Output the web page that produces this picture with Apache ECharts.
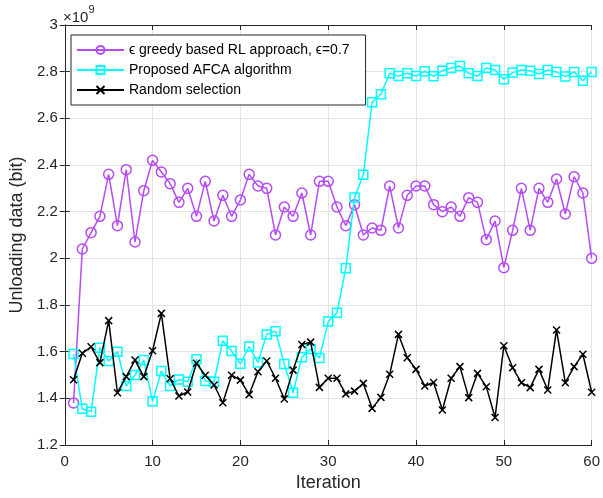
<!DOCTYPE html>
<html>
<head>
<meta charset="utf-8">
<script src="https://cdn.jsdelivr.net/npm/echarts@6/dist/echarts.min.js"></script>
<style>html,body{margin:0;padding:0;background:#fff}#c{width:603px;height:498px}</style>
</head>
<body>
<div id="c"></div>
<script>
// values in units of 1e9 bit
var iterations = [];
for (var i = 1; i <= 60; i++) iterations.push(i);
var greedyRL = [1.38,2.04,2.11,2.18,2.36,2.14,2.38,2.07,2.29,2.42,2.37,2.32,2.24,2.30,2.18,2.33,2.16,2.27,2.18,2.25,
  2.36,2.31,2.30,2.10,2.22,2.18,2.28,2.10,2.33,2.33,2.22,2.14,2.23,2.10,2.13,2.12,2.31,2.13,2.27,2.31,
  2.31,2.23,2.20,2.22,2.18,2.26,2.24,2.08,2.16,1.96,2.12,2.30,2.12,2.30,2.24,2.34,2.19,2.35,2.28,2.00];
var afca = [1.59,1.355,1.343,1.617,1.56,1.60,1.453,1.50,1.564,1.387,1.517,1.453,1.481,1.471,1.567,1.474,1.471,1.647,1.603,1.548,
  1.622,1.554,1.674,1.688,1.547,1.424,1.576,1.611,1.573,1.729,1.767,1.957,2.261,2.358,2.669,2.703,2.793,2.781,2.793,2.781,
  2.802,2.780,2.804,2.816,2.824,2.793,2.781,2.816,2.807,2.767,2.796,2.807,2.804,2.79,2.807,2.799,2.779,2.799,2.761,2.799];
var randomSel = [1.48,1.593,1.621,1.553,1.733,1.424,1.493,1.564,1.493,1.604,1.764,1.484,1.41,1.427,1.55,1.499,1.457,1.381,1.499,1.478,
  1.416,1.514,1.56,1.486,1.397,1.521,1.631,1.641,1.447,1.486,1.486,1.419,1.431,1.464,1.357,1.404,1.503,1.674,1.574,1.524,
  1.453,1.468,1.35,1.486,1.536,1.403,1.507,1.45,1.318,1.625,1.531,1.467,1.446,1.524,1.436,1.693,1.467,1.536,1.589,1.426];
var names = ['\u03f5 greedy based RL approach, \u03f5=0.7', 'Proposed AFCA algorithm', 'Random selection'];
var xTicks = {min: 0, max: 60, interval: 10};
var yTicks = {min: 1.2, max: 3, interval: 0.2};

function pairs(arr) { return arr.map(function (v, i) { return [iterations[i], v]; }); }

var FONT = 'Liberation Sans, Arial, sans-serif';
var purple = '#B44CF5', cyan = '#00FFFF';
var chart = echarts.init(document.getElementById('c'), null, {renderer: 'canvas'});
var axisLineStyle = {color: '#262626', width: 1};
chart.setOption({
  backgroundColor: '#fff',
  animation: false,
  grid: {left: 62, right: 6, top: 25, bottom: 53},
  legend: {
    orient: 'vertical', left: 71, top: 35,
    backgroundColor: '#fff', borderColor: '#262626', borderWidth: 1,
    padding: [8, 16, 8, 5], itemGap: 6, itemWidth: 47, itemHeight: 10,
    textStyle: {fontFamily: FONT, fontSize: 14, color: '#000'},
    data: names
  },
  xAxis: [{
    type: 'value', min: xTicks.min, max: xTicks.max, interval: xTicks.interval,
    name: 'Iteration', nameLocation: 'middle', nameGap: 28,
    nameTextStyle: {fontFamily: FONT, fontSize: 18, color: '#262626'},
    axisLine: {show: true, lineStyle: axisLineStyle},
    axisTick: {show: true, inside: true, length: 5, lineStyle: axisLineStyle},
    axisLabel: {fontFamily: FONT, fontSize: 15, color: '#262626', margin: 9},
    splitLine: {show: true, lineStyle: {color: '#e3e3e3', width: 1}}
  }, {
    type: 'value', position: 'top', min: xTicks.min, max: xTicks.max, interval: xTicks.interval,
    axisLine: {show: true, lineStyle: axisLineStyle},
    axisTick: {show: true, inside: true, length: 5, lineStyle: axisLineStyle},
    axisLabel: {show: false}, splitLine: {show: false}
  }],
  yAxis: [{
    type: 'value', min: yTicks.min, max: yTicks.max, interval: yTicks.interval,
    name: 'Unloading data (bit)', nameLocation: 'middle', nameGap: 35,
    nameTextStyle: {fontFamily: FONT, fontSize: 18, color: '#262626'},
    axisLine: {show: true, lineStyle: axisLineStyle},
    axisTick: {show: true, inside: true, length: 5, lineStyle: axisLineStyle},
    axisLabel: {fontFamily: FONT, fontSize: 15, color: '#262626', margin: 7,
      formatter: function (v) { return String(Math.round(v * 10) / 10); }},
    splitLine: {show: true, lineStyle: {color: '#e3e3e3', width: 1}}
  }, {
    type: 'value', position: 'right', min: yTicks.min, max: yTicks.max, interval: yTicks.interval,
    axisLine: {show: true, lineStyle: axisLineStyle},
    axisTick: {show: true, inside: true, length: 5, lineStyle: axisLineStyle},
    axisLabel: {show: false}, splitLine: {show: false}
  }],
  graphic: [{
    type: 'text', left: 63, top: 4,
    style: {
      text: '{a|\u00d710}{b|9}',
      rich: {
        a: {fontFamily: FONT, fontSize: 15, fill: '#262626', padding: [6, 0, 0, 0]},
        b: {fontFamily: FONT, fontSize: 11, fill: '#262626', verticalAlign: 'top', padding: [0, 0, 8, 0]}
      }
    }
  }],
  series: [{
    name: names[0], type: 'line', data: pairs(greedyRL),
    symbol: 'circle', symbolSize: 10, showAllSymbol: true,
    lineStyle: {color: purple, width: 1.5},
    itemStyle: {color: 'rgba(255,255,255,0)', borderColor: purple, borderWidth: 1.5},
    z: 2
  }, {
    name: names[1], type: 'line', data: pairs(afca),
    symbol: 'rect', symbolSize: 9, showAllSymbol: true,
    lineStyle: {color: cyan, width: 1.5},
    itemStyle: {color: 'rgba(255,255,255,0)', borderColor: cyan, borderWidth: 1.5},
    z: 3
  }, {
    name: names[2], type: 'line', data: pairs(randomSel),
    symbol: 'path://M0,0L10,10M10,0L0,10', symbolSize: 7, showAllSymbol: true,
    lineStyle: {color: '#000', width: 1.5},
    itemStyle: {color: 'rgba(0,0,0,0)', borderColor: '#000', borderWidth: 1.5},
    z: 4
  }]
});
</script>
</body>
</html>
